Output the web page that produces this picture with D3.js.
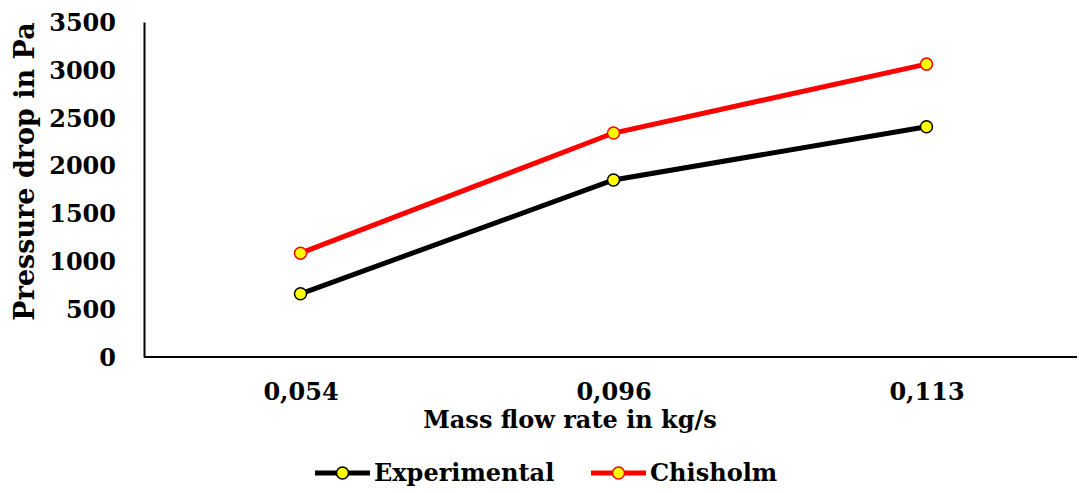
<!DOCTYPE html>
<html>
<head>
<meta charset="utf-8">
<script src="https://cdn.jsdelivr.net/npm/d3@7"></script>
<style>
  body { margin: 0; background: #fff; }
  text { font-family: "DejaVu Serif", serif; font-weight: bold; fill: #000; }
</style>
</head>
<body>
<div class="chart"></div>
<script>
var categories = ['0,054', '0,096', '0,113'];
var experimental = [660, 1850, 2405];
var chisholm = [1085, 2340, 3060];
var yTicks = [0, 500, 1000, 1500, 2000, 2500, 3000, 3500];

var series = [
  { name: 'Experimental', values: experimental, color: '#000000' },
  { name: 'Chisholm', values: chisholm, color: '#ff0000' }
];

var svgWidth = 1079;
var svgHeight = 493;
var margin = { top: 22, right: 2, bottom: 136, left: 144 };
var width = svgWidth - margin.left - margin.right;
var height = svgHeight - margin.top - margin.bottom;

var svg = d3.select('.chart')
  .append('svg')
  .attr('width', svgWidth)
  .attr('height', svgHeight);

var chartGroup = svg.append('g')
  .attr('transform', `translate(${margin.left}, ${margin.top})`);

var xScale = d3.scalePoint()
  .domain(categories)
  .range([0, width + 6])
  .padding(0.5);

var yScale = d3.scaleLinear()
  .domain([0, 3500])
  .range([height, 0]);

// axes
var leftAxis = d3.axisLeft(yScale)
  .tickValues(yTicks)
  .tickFormat(d3.format('d'))
  .tickSize(0)
  .tickPadding(28);
var yAxisG = chartGroup.append('g').call(leftAxis);
yAxisG.select('.domain').attr('stroke', '#000').attr('stroke-width', 2);
yAxisG.selectAll('text').style('font-size', '24px').attr('dy', '0.35em');

var bottomAxis = d3.axisBottom(xScale).tickSize(0).tickPadding(26);
var xAxisG = chartGroup.append('g')
  .attr('transform', `translate(0, ${height})`)
  .call(bottomAxis);
xAxisG.select('.domain').attr('d', `M0,0H${width}`).attr('stroke', '#000').attr('stroke-width', 2);
xAxisG.selectAll('text').style('font-size', '24px');

// lines and markers
var line = d3.line()
  .x((d, i) => xScale(categories[i]))
  .y(d => yScale(d));

series.forEach(function(s) {
  chartGroup.append('path')
    .datum(s.values)
    .attr('d', line)
    .attr('fill', 'none')
    .attr('stroke', s.color)
    .attr('stroke-width', 5);

  chartGroup.selectAll(null)
    .data(s.values)
    .enter()
    .append('circle')
    .attr('cx', (d, i) => xScale(categories[i]))
    .attr('cy', d => yScale(d))
    .attr('r', 6)
    .attr('fill', '#ffff00')
    .attr('stroke', s.color)
    .attr('stroke-width', 1.5);
});

// axis titles
svg.append('text')
  .attr('transform', `translate(34, ${margin.top + height / 2 - 18}) rotate(-90)`)
  .attr('text-anchor', 'middle')
  .style('font-size', '27px')
  .text('Pressure drop in Pa');

svg.append('text')
  .attr('x', 570)
  .attr('y', 428)
  .attr('text-anchor', 'middle')
  .style('font-size', '24px')
  .text('Mass flow rate in kg/s');

// legend
var legend = svg.append('g').attr('transform', 'translate(315, 473)');
var legendX = [0, 276];
series.forEach(function(s, i) {
  var g = legend.append('g').attr('transform', `translate(${legendX[i]}, 0)`);
  g.append('line')
    .attr('x1', 0).attr('x2', 55)
    .attr('y1', 0).attr('y2', 0)
    .attr('stroke', s.color)
    .attr('stroke-width', 5);
  g.append('circle')
    .attr('cx', 27.5).attr('cy', 0)
    .attr('r', 6)
    .attr('fill', '#ffff00')
    .attr('stroke', s.color)
    .attr('stroke-width', 1.5);
  g.append('text')
    .attr('x', 59)
    .attr('y', 0)
    .attr('dy', '0.35em')
    .style('font-size', '24px')
    .text(s.name);
});
</script>
</body>
</html>
